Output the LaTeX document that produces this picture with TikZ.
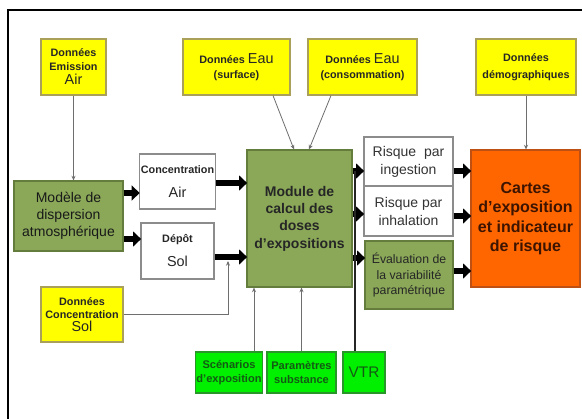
\documentclass[tikz,border=0pt]{standalone}
\usepackage{fontspec}
\setmainfont{Liberation Sans}
\usetikzlibrary{arrows.meta,calc}
\definecolor{yel}{RGB}{255,255,0}
\definecolor{yelb}{RGB}{170,160,90}
\definecolor{oli}{RGB}{138,168,88}
\definecolor{olib}{RGB}{100,125,60}
\definecolor{grn}{RGB}{0,240,0}
\definecolor{grnb}{RGB}{40,150,40}
\definecolor{ora}{RGB}{255,102,0}
\definecolor{orab}{RGB}{190,80,20}
\definecolor{dgrn}{RGB}{20,90,20}
\definecolor{thin}{RGB}{110,110,110}
\newcommand{\fsS}{\fontsize{8.1}{10}\selectfont\bfseries}
\newcommand{\fsM}{\fontsize{10.8}{12}\selectfont\mdseries}
\tikzset{
  sz/.style 2 args={minimum width=#1*0.75pt, minimum height=#2*0.75pt},
  bx/.style={draw, line width=0.8pt, inner sep=1pt, align=center, text=black!85},
  ybox/.style={bx, fill=yel, draw=yelb},
  obox/.style={bx, fill=oli, draw=olib},
  gbox/.style={bx, fill=grn, draw=grnb, text=dgrn},
  wbox/.style={bx, fill=white, draw=black!45},
  rbox/.style={bx, fill=ora, draw=orab, text={rgb,255:red,60;green,20;blue,0}},
  thinc/.style={draw=thin, line width=0.6pt, -{Stealth[length=3.5pt,width=3pt]}},
  bigc/.style={draw=black, line width=5pt, -{Triangle[length=6pt,width=11pt]}, shorten >=-0.5pt},
}
\begin{document}
\begin{tikzpicture}[x=0.75pt,y=-0.75pt]
\useasboundingbox (0,0) rectangle (582,418);
\fill[white] (0,0) rectangle (582,418);
% frame
\draw[line width=1.6pt] (8,420) -- (8,10) -- (584,10);

% top data boxes
\node[ybox, sz={65}{56}] (emis) at (73.5,67) {\fsS Données\\[-1.5pt]\fsS Emission\\[-1.5pt]\fsM Air};
\node[ybox, sz={107}{56}] (eaus) at (236.5,67) {\fsS Données {\fsM Eau}\\[-1pt]\fsS (surface)};
\node[ybox, sz={109}{56}] (eauc) at (362.5,67) {\fsS Données {\fsM Eau}\\[-1pt]\fsS (consommation)};
\node[ybox, sz={100}{56}] (demo) at (526,67) {\fsS Données\\[1pt]\fsS démographiques};

% left column
\node[obox, sz={109}{70}, text=black!90, font=\fontsize{10.5}{12.8}\selectfont] (model) at (68.5,216) {Modèle de\\ dispersion\\ atmosphérique};
\node[ybox, sz={82}{55}] (csol) at (82,314.5) {\fsS Données\\[-2pt]\fsS Concentration\\[-2pt]\fsM Sol};

% middle
\node[wbox, sz={73}{55}] (cair) at (177.5,181.5) {\fsS Concentration\\[6pt]\fsM Air};
\node[wbox, sz={73}{56}] (depot) at (177.5,251) {\fsS Dépôt\\[6pt]\fsM Sol};
\node[obox, sz={105}{137}, font=\fontsize{10.5}{13}\selectfont\bfseries] (module) at (299.5,218.5) {Module de\\ calcul des\\ doses\\ d’expositions};

% risk column
\node[wbox, sz={89}{49}, text=black!80, font=\fontsize{10.5}{13.5}\selectfont] (ing) at (408.5,161.5) {Risque\ \ par\\ ingestion};
\node[wbox, sz={89}{50}, text=black!80, font=\fontsize{10.5}{13.5}\selectfont] (inh) at (408.5,211) {Risque par\\ inhalation};
\node[obox, sz={88}{68}, text=black!85, font=\fontsize{9.2}{11.3}\selectfont] (eval) at (409,275) {Évaluation de\\ la variabilité\\ paramétrique};

\node[rbox, sz={109}{137}, font=\fontsize{12}{14.6}\selectfont\bfseries] (cartes) at (525.5,218.5) {Cartes\\ d’exposition\\ et indicateur\\ de risque};

% bottom green boxes
\node[gbox, sz={64}{41}, font=\fontsize{8.3}{10.5}\selectfont\bfseries] (scen) at (229,372.5) {Scénarios\\ d'exposition};
\node[gbox, sz={69}{41}, font=\fontsize{8.3}{10.5}\selectfont\bfseries] (param) at (301.5,372.5) {Paramètres\\ substance};
\node[gbox, sz={42}{41}, font=\fontsize{11.5}{13}\selectfont] (vtr) at (364,372.5) {VTR};

% named points
\coordinate (eausp) at ($(eaus.south)+(36.5,0)$);
\coordinate (eausm) at ($(module.north)+(-5.5,0)$);
\coordinate (eaucp) at ($(eauc.south)+(-31.5,0)$);
\coordinate (eaucm) at ($(module.north)+(9.5,0)$);
\coordinate (scenp) at ($(scen.north)+(25,0)$);
\coordinate (vtrp) at ($(vtr.north)+(-9,0)$);

% thin connectors
\draw[thinc] (emis.south) -- (emis.south |- model.north);
\draw[thinc] (eausp) -- (eausm);
\draw[thinc] (eaucp) -- (eaucm);
\draw[thinc] (demo.south) -- (demo.south |- cartes.north);
\draw[thinc] (scenp) -- (scenp |- module.south);
\draw[thinc] (param.north) -- (param.north |- module.south);

% thick arrows
\draw[bigc] (model.east |- 0,193) -- (cair.west |- 0,193);
\draw[bigc] (model.east |- 0,239) -- (depot.west |- 0,239);
\draw[bigc] (cair.east |- 0,183) -- (module.west |- 0,183);
\draw[bigc] (depot.east |- 0,257) -- (module.west |- 0,257);
\coordinate (soljoin) at (228,261);
\draw[thinc] (csol.east |- 0,314) -| (soljoin);
\draw[bigc] (module.east |- 0,171) -- (ing.west |- 0,171);
\draw[bigc] (module.east |- 0,214) -- (inh.west |- 0,214);
\draw[bigc] (module.east |- 0,258) -- (eval.west |- 0,258);
\draw[bigc] (ing.east |- 0,171) -- (cartes.west |- 0,171);
\draw[bigc] (inh.east |- 0,216) -- (cartes.west |- 0,216);
\draw[bigc] (eval.east |- 0,271) -- (cartes.west |- 0,271);

% VTR line
\draw[line width=1.3pt, black!85] (vtrp) -- (vtrp |- 0,171);
\end{tikzpicture}
\end{document}
